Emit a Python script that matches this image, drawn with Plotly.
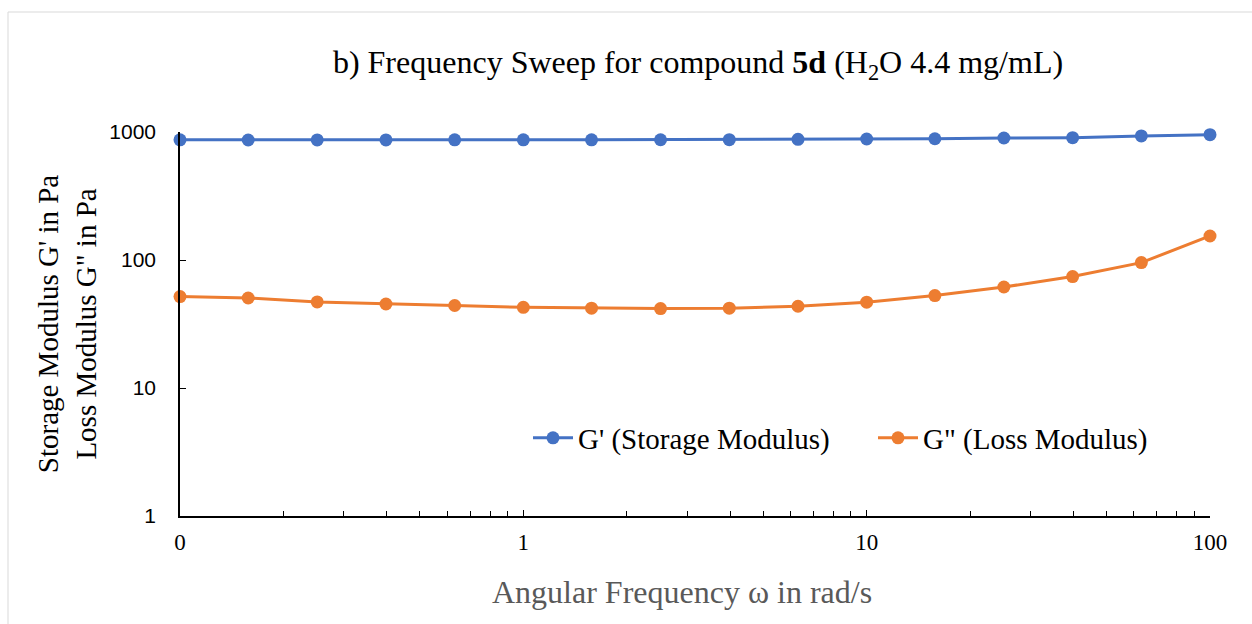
import plotly.graph_objects as go

# Angular frequency sweep points (rad/s)
omega = [0.1, 0.158, 0.251, 0.398, 0.631, 1.0, 1.58, 2.51, 3.98, 6.31,
         10.0, 15.8, 25.1, 39.8, 63.1, 100.0]
# Storage modulus G' (Pa)
g_storage = [868, 866, 867, 867, 868, 868, 869, 870, 871, 877,
             882, 886, 898, 903, 931, 953]
# Loss modulus G'' (Pa)
g_loss = [51.8, 50.5, 47.0, 45.3, 44.1, 42.7, 42.0, 41.7, 42.0, 43.5,
          46.8, 52.7, 61.5, 74.2, 95.4, 154]

x_tickvals = [0.1, 1, 10, 100]
x_ticktext = ["0", "1", "10", "100"]
y_tickvals = [1, 10, 100, 1000]
y_ticktext = ["1", "10", "100", "1000"]
x_minor = [m * d for d in (0.1, 1, 10) for m in range(2, 10)]

BLUE = "#4472C4"
ORANGE = "#ED7D31"
SERIF = "Liberation Serif"
SANS = "Liberation Sans"

W, H = 1252, 624
L, R, T, B = 180, 42, 132, 108
pw, ph = W - L - R, H - T - B

fig = go.Figure()
fig.add_trace(go.Scatter(
    x=omega, y=g_storage, mode="lines+markers", name="G' (Storage Modulus)",
    line=dict(color=BLUE, width=3), marker=dict(color=BLUE, size=13),
    cliponaxis=False))
fig.add_trace(go.Scatter(
    x=omega, y=g_loss, mode="lines+markers", name='G" (Loss Modulus)',
    line=dict(color=ORANGE, width=3), marker=dict(color=ORANGE, size=13),
    cliponaxis=False))

fig.update_layout(
    width=W, height=H,
    margin=dict(l=L, r=R, t=T, b=B),
    paper_bgcolor="white", plot_bgcolor="white",
    showlegend=True,
    title=dict(
        text="b) Frequency Sweep for compound <b>5d</b> (H<sub>2</sub>O 4.4 mg/mL)",
        font=dict(family=SERIF, size=32, color="black"),
        x=698 / W, xanchor="center", xref="container",
        y=1 - 62 / H, yanchor="middle", yref="container"),
    legend=dict(
        orientation="h",
        x=(528 - L) / pw, xanchor="left",
        y=(516 - 438) / ph, yanchor="middle",
        font=dict(family=SERIF, size=29, color="black"),
        bgcolor="rgba(0,0,0,0)", itemwidth=40, tracegroupgap=0,
        entrywidth=290, entrywidthmode="pixels"),
    xaxis=dict(
        type="log", range=[-1, 2],
        tickmode="array", tickvals=x_tickvals, ticktext=x_ticktext,
        ticks="inside", ticklen=6, tickwidth=1, tickcolor="black",
        minor=dict(tickmode="array", tickvals=x_minor, ticks="inside",
                   ticklen=5, tickwidth=1, tickcolor="black", showgrid=False),
        showline=True, linecolor="black", linewidth=1.5,
        showgrid=False, zeroline=False,
        tickfont=dict(family=SERIF, size=23, color="black"),
        ticklabelstandoff=5),
    yaxis=dict(
        type="log", range=[0, 3],
        tickmode="array", tickvals=y_tickvals, ticktext=y_ticktext,
        ticks="inside", ticklen=6, tickwidth=1, tickcolor="black",
        showline=True, linecolor="black", linewidth=1.5,
        showgrid=False, zeroline=False,
        tickfont=dict(family=SANS, size=21, color="black"),
        ticklabelstandoff=18,
        title=dict(text="Storage Modulus G' in Pa<br>Loss Modulus G\" in Pa",
                   font=dict(family=SERIF, size=29, color="black"),
                   standoff=4)),
)

# x-axis caption
fig.add_annotation(
    text="Angular Frequency \u03c9 in rad/s", showarrow=False,
    xref="paper", yref="paper",
    x=(682 - L) / pw, xanchor="center",
    y=-(592 - (T + ph)) / ph, yanchor="middle",
    font=dict(family=SERIF, size=32, color="#595959"))

# thin chart frame
fig.add_shape(
    type="rect", xref="paper", yref="paper",
    x0=(8 - L) / pw, x1=(W + 5 - L) / pw,
    y0=-(H + 5 - (T + ph)) / ph, y1=((T + ph) - 12) / ph,
    line=dict(color="#D9D9D9", width=1), fillcolor="rgba(0,0,0,0)",
    layer="below")

fig.write_html("out.html")
